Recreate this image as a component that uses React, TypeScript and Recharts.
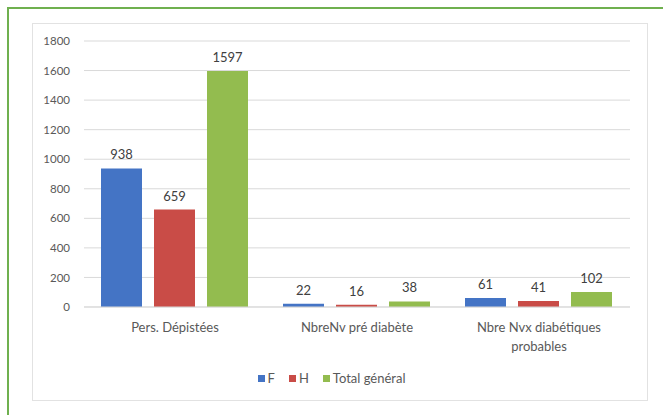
import { BarChart, Bar, XAxis, YAxis, CartesianGrid, Legend, LabelList, Text } from 'recharts'

const categories = ['Pers. Dépistées', 'NbreNv pré diabète', 'Nbre Nvx diabétiques probables']
const femmes = [938, 22, 61]
const hommes = [659, 16, 41]
const totalGeneral = [1597, 38, 102]
const yTicks = [0, 200, 400, 600, 800, 1000, 1200, 1400, 1600, 1800]

const SERIES = [
  { key: 'F', name: 'F', color: '#4474C5' },
  { key: 'H', name: 'H', color: '#C94C47' },
  { key: 'T', name: 'Total général', color: '#93BC4F' },
]

const data = categories.map((cat, i) => ({
  cat,
  F: femmes[i],
  H: hommes[i],
  T: totalGeneral[i],
}))

const FONT = 'Lato, "Open Sans", sans-serif'

function CategoryTick(props: any) {
  const { x, y, payload } = props
  return (
    <Text
      x={x}
      y={y + 8}
      width={150}
      textAnchor="middle"
      verticalAnchor="start"
      fontSize={13}
      fontFamily={FONT}
      fill="#595959"
      lineHeight={19}
    >
      {payload.value}
    </Text>
  )
}

function LegendContent() {
  return (
    <div style={{ display: 'flex', justifyContent: 'center', gap: 14, height: 24, alignItems: 'center', fontFamily: FONT, fontSize: 13, color: '#595959' }}>
      {SERIES.map(s => (
        <span key={s.key} style={{ display: 'flex', alignItems: 'center', gap: 3 }}>
          <span style={{ width: 7, height: 7, background: s.color, display: 'inline-block' }} />
          {s.name}
        </span>
      ))}
    </div>
  )
}

export default function App() {
  return (
    <div style={{ position: 'fixed', left: 0, top: 0, width: 663, height: 415, background: '#fff', overflow: 'hidden' }}>
      <div style={{ position: 'absolute', left: 7, top: 7, width: 656, height: 408, borderTop: '2px solid #6FB04F', borderLeft: '2px solid #6FB04F', boxSizing: 'border-box' }} />
      <div style={{ position: 'absolute', left: 32, top: 23, width: 616, height: 378, border: '1px solid #E2E2E2', boxSizing: 'border-box' }}>
        <BarChart
          width={614}
          height={376}
          data={data}
          margin={{ top: 17, right: 17, left: 0, bottom: 10 }}
          barGap={12}
          barCategoryGap={17}
        >
          <CartesianGrid vertical={false} stroke="#D9D9D9" />
          <XAxis
            dataKey="cat"
            tick={<CategoryTick />}
            tickLine={false}
            axisLine={{ stroke: '#D9D9D9' }}
            height={59}
            interval={0}
          />
          <YAxis
            domain={[0, 1800]}
            ticks={yTicks}
            width={51}
            tickLine={false}
            axisLine={false}
            tick={{ fontSize: 11.5, fill: '#595959', fontFamily: FONT }}
            tickMargin={8}
          />
          <Legend verticalAlign="bottom" height={24} content={<LegendContent />} />
          {SERIES.map(s => (
            <Bar key={s.key} dataKey={s.key} name={s.name} fill={s.color} isAnimationActive={false}>
              <LabelList dataKey={s.key} position="top" offset={9} fill="#404040" fontSize={13} fontFamily={FONT} />
            </Bar>
          ))}
        </BarChart>
      </div>
    </div>
  )
}
